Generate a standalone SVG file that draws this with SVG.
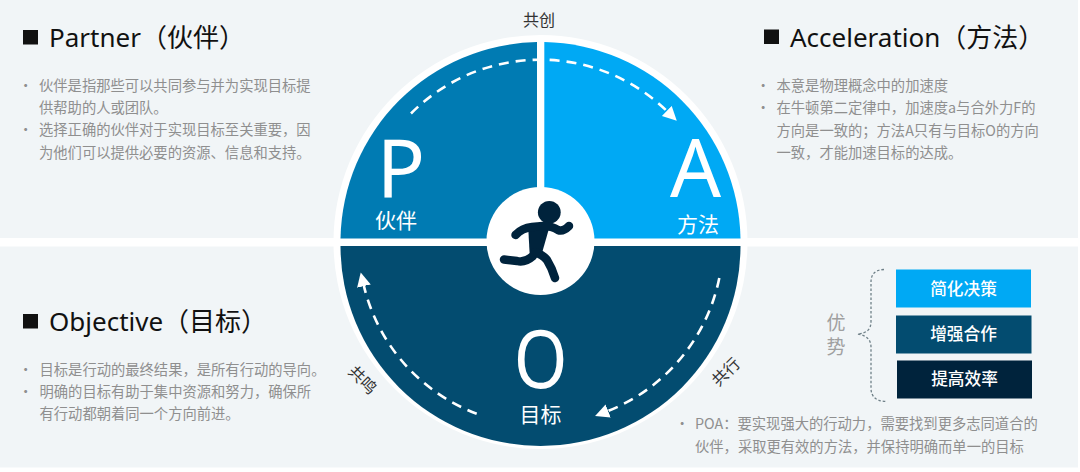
<svg xmlns="http://www.w3.org/2000/svg" width="1080" height="472" viewBox="0 0 1080 472">
<style>
text{font-family:"Noto Sans","Noto Sans CJK SC",sans-serif}
.t{font-size:26px;font-weight:400;fill:#111}
.b{font-size:14.3px;fill:#8f8f8f;font-family:"Noto Sans CJK SC","Noto Sans",sans-serif}
.l{font-size:80px;font-weight:400;fill:#fff;text-anchor:middle}
.n{font-size:21px;fill:#fff;text-anchor:middle;font-family:"Noto Sans CJK SC",sans-serif}
.c{font-size:16px;fill:#333;text-anchor:middle;font-family:"Noto Sans CJK SC",sans-serif}
.k{font-size:16.7px;font-weight:500;fill:#fff;text-anchor:middle;font-family:"Noto Sans CJK SC",sans-serif}
.y{font-size:19px;fill:#a0a0a0;text-anchor:middle;font-family:"Noto Sans CJK SC",sans-serif}
.d{fill:none;stroke:#fff;stroke-width:2.6;stroke-dasharray:10 7}
.s{fill:#111}
.lim{fill:none;stroke:#00233c;stroke-width:8.5;stroke-linecap:round;stroke-linejoin:round}
</style>
<defs>
<marker id="ah" markerUnits="userSpaceOnUse" markerWidth="16" markerHeight="16" refX="1" refY="7" orient="auto"><path d="M0 0L14 7L0 14Z" fill="#fff"/></marker>
</defs>
<rect width="1078" height="467.5" fill="#f1f5f7"/>
<rect x="0" y="238" width="1080" height="8.5" fill="#fff"/>
<g id="wheel">
<circle cx="540.5" cy="242" r="207" fill="#fff"/>
<path id="sector-p" d="M537 42.1A200 200 0 0 0 340.5 238.5H537Z" fill="#007bb3"/>
<path id="sector-a" d="M544.3 42.1A200 200 0 0 1 740.5 238.5H544.3Z" fill="#00a9f4"/>
<path id="sector-o" d="M340.5 246A200 200 0 0 0 740.5 246Z" fill="#034c70"/>
</g>
<g id="connectors">
<path class="d" d="M411 113.5A182 182 0 0 1 667.5 111.6" marker-end="url(#ah)"/>
<path class="d" d="M719.3 278A182 182 0 0 1 607.2 411.3" marker-end="url(#ah)"/>
<path class="d" d="M476.7 413.7A182 182 0 0 1 363.7 285.1" marker-end="url(#ah)"/>
</g>
<g id="node-p"><text class="l" x="401" y="196.7">P</text><text class="n" x="396" y="227.5">伙伴</text></g>
<g id="node-a"><text class="l" x="695.5" y="196.7">A</text><text class="n" x="698" y="231.5">方法</text></g>
<g id="node-o"><text class="l" transform="translate(540.5 388) scale(.86 1)">O</text><text class="n" x="540.5" y="421.5">目标</text></g>
<g id="center">
<circle cx="540.5" cy="241" r="54" fill="#fff"/>
<circle cx="549.3" cy="212.3" r="11.4" fill="#00233c"/>
<path d="M528 224L550 225L542 253L530 260Z" fill="#00233c"/>
<path class="lim" d="M515.5 235Q522 228 532 227L543 226Q552 226 558 230Q563 232 569 226"/>
<path class="lim" d="M533 256Q525 263 517 261L504 259.5"/>
<path class="lim" d="M535 252Q543 255 547 260Q552 268 555 278"/>
</g>
<g id="label-create"><text class="c" x="539" y="25.5">共创</text></g>
<g id="label-go"><text class="c" transform="translate(726 372) rotate(-45)" y="5.5">共行</text></g>
<g id="label-resonate"><text class="c" transform="translate(362.5 380) rotate(45)" y="5.5">共鸣</text></g>
<g id="partner">
<rect class="s" x="23" y="30" width="15" height="14.5"/>
<text class="t" x="49" y="47">Partner（伙伴）</text>
<text class="b"><tspan x="18.5" y="91">•</tspan><tspan x="39" y="91">伙伴是指那些可以共同参与并为实现目标提</tspan><tspan x="39" y="113">供帮助的人或团队。</tspan><tspan x="18.5" y="135">•</tspan><tspan x="39" y="135">选择正确的伙伴对于实现目标至关重要，因</tspan><tspan x="39" y="158">为他们可以提供必要的资源、信息和支持。</tspan></text>
</g>
<g id="acceleration">
<rect class="s" x="764" y="29.5" width="15" height="14.5"/>
<text class="t" x="790" y="47">Acceleration（方法）</text>
<text class="b"><tspan x="756" y="91">•</tspan><tspan x="776.5" y="91">本意是物理概念中的加速度</tspan><tspan x="756" y="113">•</tspan><tspan x="776.5" y="113">在牛顿第二定律中，加速度a与合外力F的</tspan><tspan x="776.5" y="135.5">方向是一致的；方法A只有与目标O的方向</tspan><tspan x="776.5" y="158">一致，才能加速目标的达成。</tspan></text>
</g>
<g id="objective">
<rect class="s" x="23" y="314" width="15" height="14.5"/>
<text class="t" x="49" y="331">Objective（目标）</text>
<text class="b"><tspan x="18.5" y="374.5">•</tspan><tspan x="39.5" y="374.5">目标是行动的最终结果，是所有行动的导向。</tspan><tspan x="18.5" y="396.5">•</tspan><tspan x="39.5" y="396.5">明确的目标有助于集中资源和努力，确保所</tspan><tspan x="39.5" y="419">有行动都朝着同一个方向前进。</tspan></text>
</g>
<g id="advantage-1"><rect x="896" y="269.5" width="135" height="38" fill="#00a9f4"/><text class="k" x="963.5" y="294.5">简化决策</text></g>
<g id="advantage-2"><rect x="896" y="315.5" width="135.5" height="38" fill="#034c70"/><text class="k" x="963.5" y="339.5">增强合作</text></g>
<g id="advantage-3"><rect x="897" y="360.5" width="135" height="38" fill="#00233c"/><text class="k" x="964.5" y="385">提高效率</text></g>
<g id="advantage-label">
<text class="y" x="836" y="330">优</text><text class="y" x="836" y="354">势</text>
<path d="M884 269.5Q871 270 871 282V322Q871 333 857.5 334Q871 336 871 347V388Q871 401 886 401.5" fill="none" stroke="#6f8088" stroke-width="1.3" stroke-dasharray="2.5 2"/>
</g>
<g id="poa-note">
<text class="b"><tspan x="675" y="429">•</tspan><tspan x="695" y="429">POA：要实现强大的行动力，需要找到更多志同道合的</tspan><tspan x="695" y="452">伙伴，采取更有效的方法，并保持明确而单一的目标</tspan></text>
</g>
</svg>
